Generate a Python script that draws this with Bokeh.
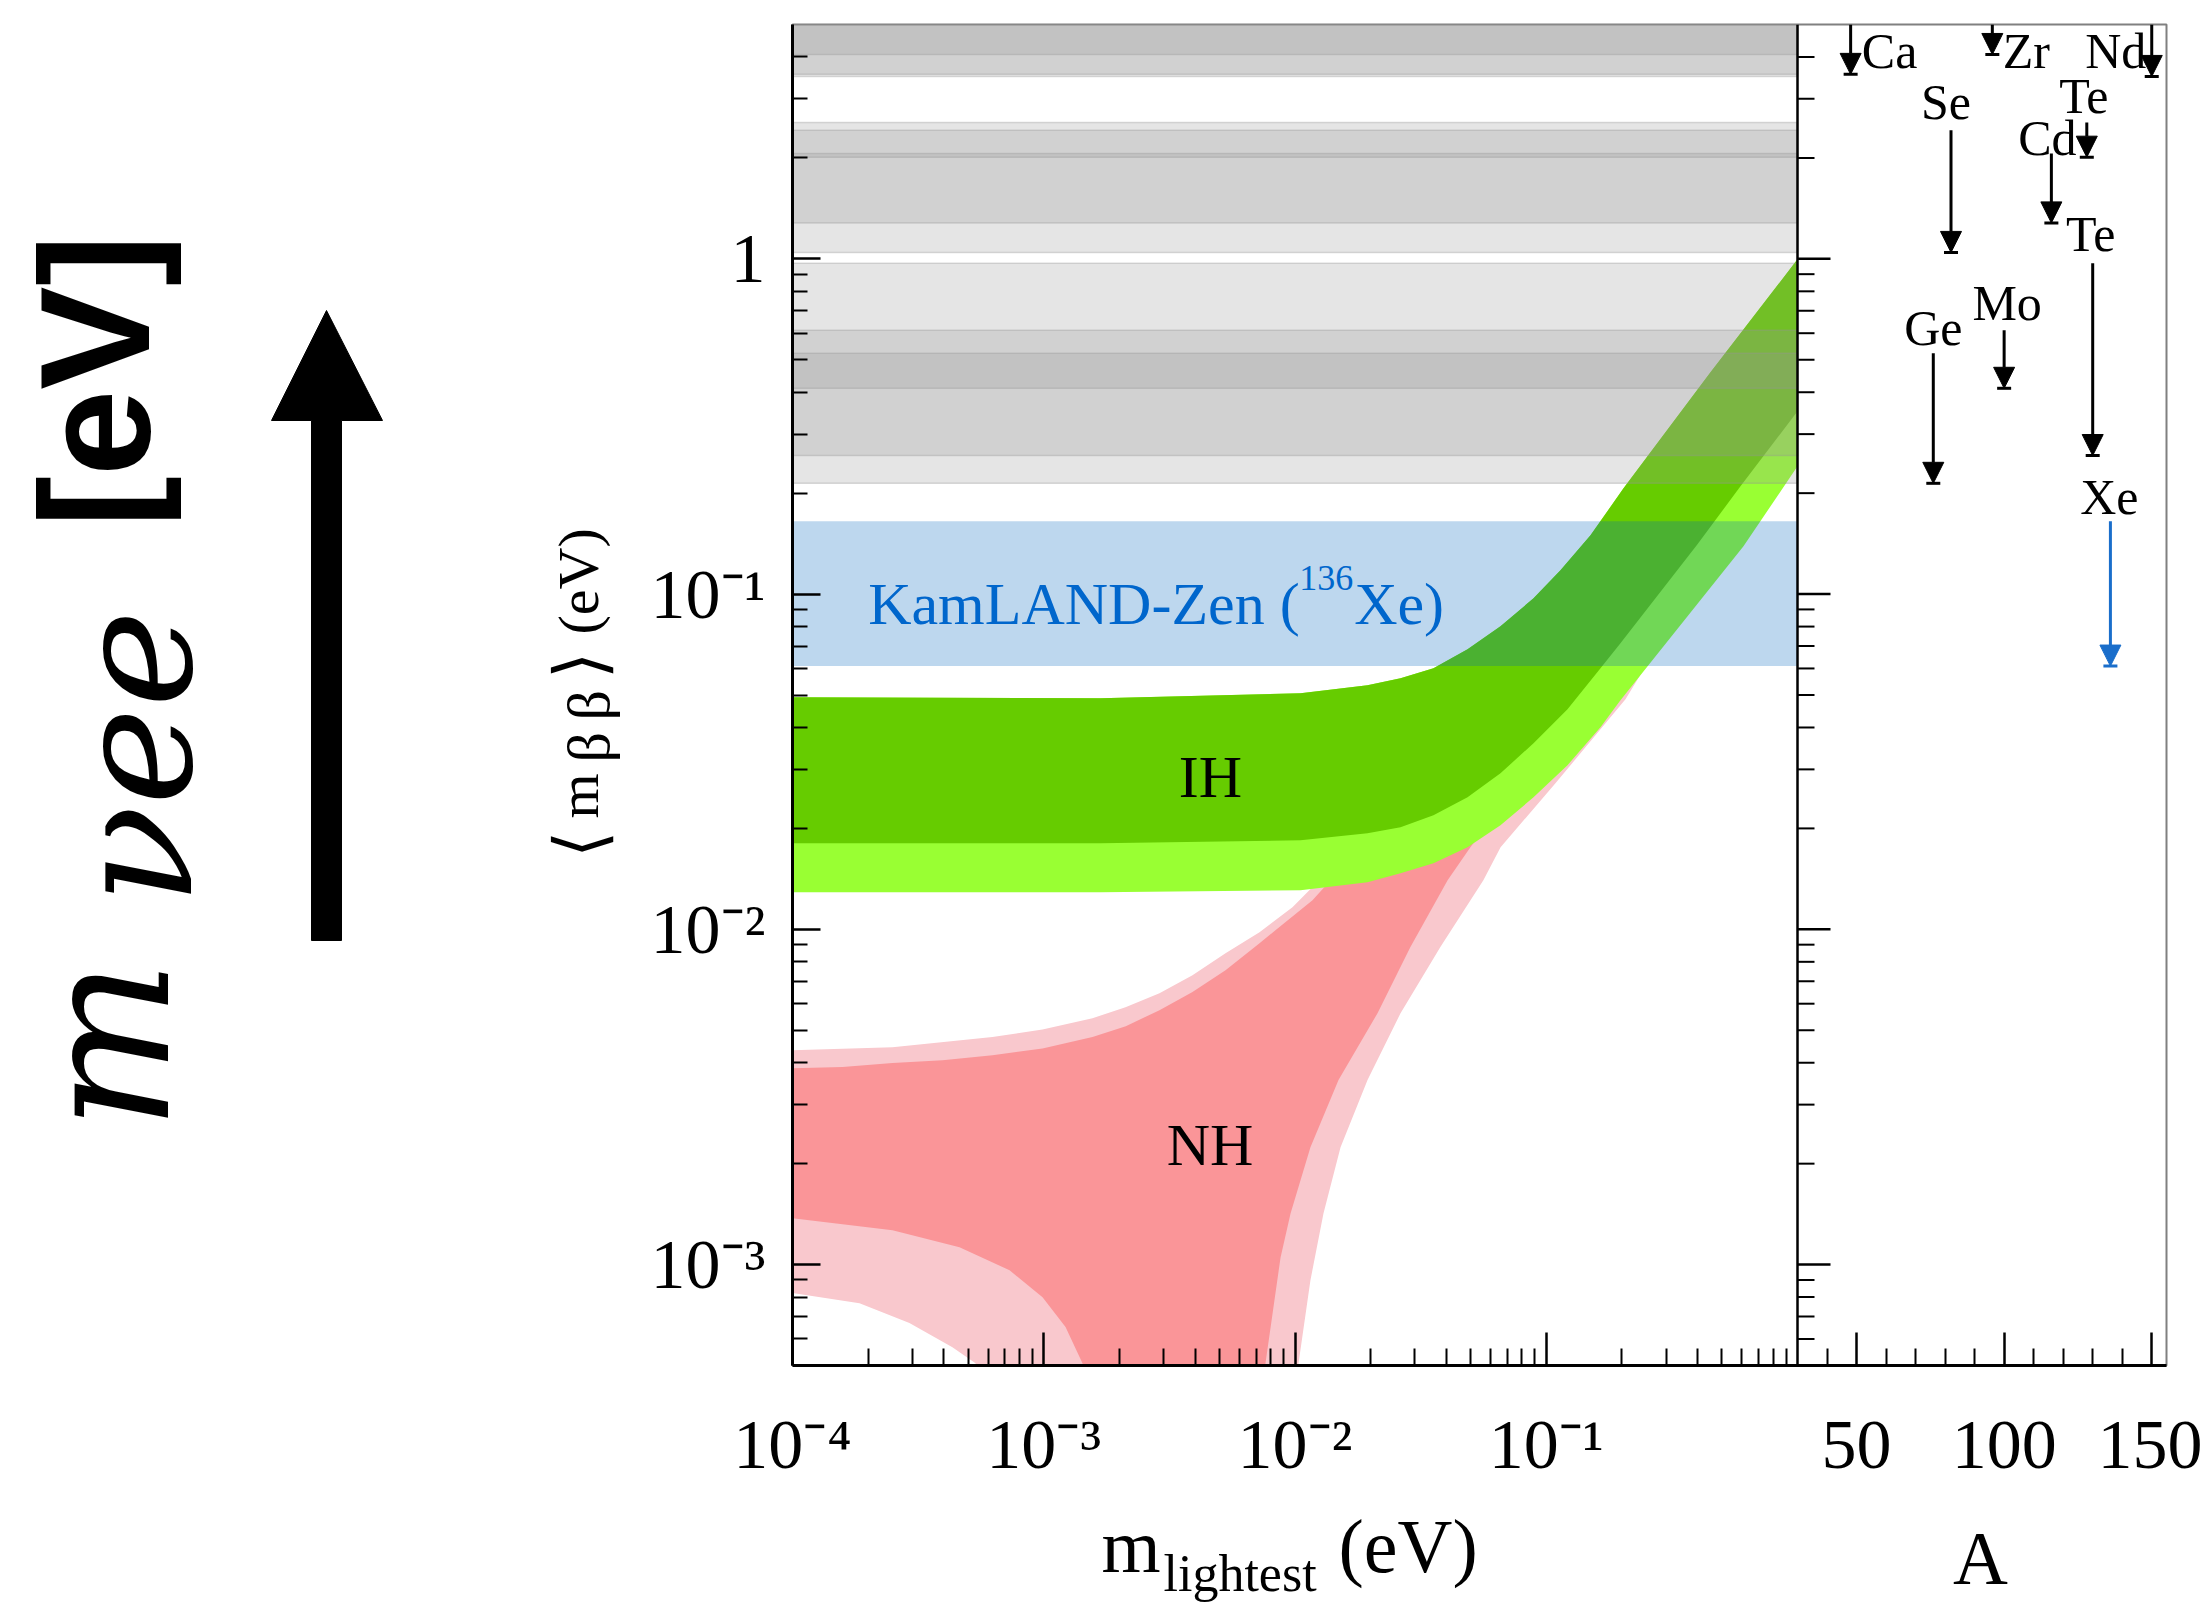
import math
from bokeh.plotting import figure
from bokeh.layouts import row, column
from bokeh.models import (ColumnDataSource, FixedTicker, Range1d, LinearScale,
                          Span, Arrow, NormalHead)
from bokeh.core.properties import value
from bokeh.embed import file_html
from bokeh.resources import INLINE

# ======================= DATA =======================
X_LIM = [1e-4, 1.0]      # m_lightest (eV)
Y_LIM = [5e-4, 5.0]      # <m_bb> (eV)
A_LIM = [30, 155]        # mass number A

x_major = [1e-4, 1e-3, 1e-2, 1e-1]
x_major_labels = ["10\u207b\u2074", "10\u207b\u00b3", "10\u207b\u00b2", "10\u207b\u00b9"]
y_major = [1e-3, 1e-2, 1e-1, 1.0]
y_major_labels = ["10\u207b\u00b3", "10\u207b\u00b2", "10\u207b\u00b9", "1"]
a_major = [50, 100, 150]
a_major_labels = ["50", "100", "150"]
a_minor = [40, 60, 70, 80, 90, 110, 120, 130, 140]

# Inverted hierarchy band
ih_up_x = [1e-4, 1.682e-3, 0.01052, 0.01943, 0.02630, 0.03557, 0.04861, 0.06574,
           0.08899, 0.1139, 0.1500, 0.2030, 0.4505, 1.0]
ih_up_y = [0.04923, 0.04889, 0.05060, 0.05346, 0.05609, 0.06008, 0.06844, 0.08015,
           0.09717, 0.1178, 0.1497, 0.2068, 0.4585, 0.9966]
ih_dark_low_x = [1e-4, 1.682e-3, 0.01052, 0.01943, 0.02630, 0.03557, 0.04861, 0.06574,
                 0.08899, 0.1215, 0.1644, 0.1974, 0.3999, 0.5930, 1.0]
ih_dark_low_y = [0.01806, 0.01806, 0.01844, 0.01935, 0.02016, 0.02189, 0.02477, 0.02921,
                 0.03589, 0.04530, 0.06008, 0.07135, 0.1408, 0.2097, 0.3509]
ih_light_low_x = [1e-4, 1.682e-3, 0.01052, 0.01943, 0.02630, 0.03557, 0.04861, 0.06574,
                  0.08899, 0.1215, 0.1644, 0.1974, 0.6095, 1.0]
ih_light_low_y = [0.01290, 0.01290, 0.01308, 0.01382, 0.01470, 0.01575, 0.01757, 0.02044,
                  0.02477, 0.03087, 0.04006, 0.04823, 0.1389, 0.2404]

# Normal hierarchy band
nh_light_up_x = [1e-4, 2.50e-4, 6.25e-4, 9.886e-4, 1.563e-3, 2.115e-3, 2.888e-3, 3.908e-3,
                 5.29e-3, 7.223e-3, 9.77e-3, 0.02, 0.05, 0.1, 0.3, 1.0]
nh_light_up_y = [4.36e-3, 4.45e-3, 4.77e-3, 5.03e-3, 5.43e-3, 5.857e-3, 6.45e-3, 7.295e-3,
                 8.49e-3, 9.80e-3, 0.01164, 0.02, 0.04, 0.07, 0.2, 0.6]
nh_dark_up_x = [1e-4, 1.581e-4, 2.50e-4, 3.954e-4, 6.25e-4, 9.886e-4, 1.563e-3, 2.121e-3,
                2.888e-3, 3.908e-3, 5.29e-3, 7.203e-3, 8.36e-3, 0.01174, 0.02, 0.05, 0.1, 0.3, 1.0]
nh_dark_up_y = [3.85e-3, 3.887e-3, 3.99e-3, 4.071e-3, 4.21e-3, 4.41e-3, 4.77e-3, 5.14e-3,
                5.74e-3, 6.505e-3, 7.55e-3, 9.07e-3, 9.94e-3, 0.01222, 0.019, 0.038, 0.065, 0.19, 0.58]
nh_light_right_x = [1.0, 0.6, 0.2067, 0.1088, 0.0658, 0.0562, 0.0379, 0.0263, 0.01944,
                    0.01518, 0.01298, 0.01152, 0.01033, 0.0099]
nh_light_right_y = [0.3, 0.18, 0.04857, 0.02727, 0.01757, 0.0140, 8.85e-3, 5.62e-3, 3.55e-3,
                    2.24e-3, 1.42e-3, 8.98e-4, 5.08e-4, 3.0e-4]
nh_dark_right_x = [1.0, 0.3, 0.1, 0.0499, 0.0405, 0.0288, 0.0213, 0.0149, 0.01152,
                   9.60e-3, 8.76e-3, 7.63e-3, 7.3e-3]
nh_dark_right_y = [0.4, 0.12, 0.035, 0.01757, 0.0140, 8.85e-3, 5.62e-3, 3.55e-3, 2.24e-3,
                   1.42e-3, 1.05e-3, 5.08e-4, 3.0e-4]
nh_dark_left_x = [1e-4, 2.50e-4, 4.62e-4, 7.31e-4, 9.89e-4, 1.221e-3, 1.426e-3, 1.6e-3]
nh_dark_left_y = [1.375e-3, 1.266e-3, 1.127e-3, 9.62e-4, 7.99e-4, 6.51e-4, 5.08e-4, 3.0e-4]
nh_light_left_x = [1e-4, 1.848e-4, 2.92e-4, 4.33e-4, 5.35e-4, 6.5e-4]
nh_light_left_y = [8.22e-4, 7.67e-4, 6.69e-4, 5.67e-4, 5.08e-4, 3.0e-4]

# Experimental limits per isotope (range from nuclear matrix elements)
iso_name = ["Ca", "Ge", "Se", "Zr", "Mo", "Cd", "Te", "Te", "Xe", "Nd"]
iso_A = [48, 76, 82, 96, 100, 116, 128, 130, 136, 150]
iso_low = [3.55, 0.214, 1.045, 4.07, 0.411, 1.28, 2.01, 0.259, 0.061, 3.5]
iso_high = [22.0, 0.523, 2.42, 19.5, 0.612, 2.06, 2.55, 0.97, 0.165, 6.3]
KZ_INDEX = 8   # KamLAND-Zen (136Xe)

# text labels inside the main panel
main_label_text = ["IH", "NH"]
main_label_x = [4.61e-3, 4.59e-3]
main_label_y = [0.0284, 2.27e-3]
kz_label_x, kz_label_y = 2e-4, 0.0932

# ======================= STYLE / LAYOUT =======================
W, H = 2202, 1605
LEFT_W = 620                      # strip holding the big label and y title
BORDER_L, BORDER_R = 172, 36      # main figure borders (page x of frame = 792)
PANEL_L_W, PANEL_R_W, FRAME_H = 1005, 369, 1341
MAIN_H = 1500
SERIF = "Liberation Serif"
LABEL_DX = [39, 0, -5, 34, 3, -4, -3, -2, -1, -36]
LABEL_DY = [26, -25, -28, 26, -27, -16, -27, -29, -24, 26]
GRAY, BLUE_BAND, BLUE = "#969696", "#0064bd", "#1a6ecb"

log_l = math.log10(X_LIM[1]) - math.log10(X_LIM[0])
log_r = log_l * PANEL_R_W / PANEL_L_W
x_end = 10 ** (math.log10(X_LIM[1]) + log_r)
a_start = A_LIM[0] - (A_LIM[1] - A_LIM[0]) * PANEL_L_W / PANEL_R_W


def a_to_x(a):
    return 10 ** (math.log10(X_LIM[1]) + (a - A_LIM[0]) / (A_LIM[1] - A_LIM[0]) * log_r)


def log_minors(lo, hi):
    out, e = [], math.floor(math.log10(lo))
    while 10 ** e <= hi:
        for k in range(2, 10):
            v = k * 10 ** e
            if lo < v < hi:
                out.append(v)
        e += 1
    return out


p = figure(x_axis_type="log", y_axis_type="log",
           x_range=Range1d(X_LIM[0], x_end), y_range=Range1d(*Y_LIM),
           frame_width=PANEL_L_W + PANEL_R_W, frame_height=FRAME_H,
           min_border_left=BORDER_L, min_border_right=BORDER_R,
           min_border_top=24, min_border_bottom=MAIN_H - 24 - FRAME_H,
           toolbar_location=None, output_backend="svg")
p.extra_x_ranges = {"A": Range1d(a_start, A_LIM[1])}
p.extra_x_scales = {"A": LinearScale()}
p.grid.visible = False
p.outline_line_color = "#808080"
p.outline_line_width = 2
p.background_fill_color = "white"
p.border_fill_color = "white"

# ---- axes ----
xax, yax = p.xaxis[0], p.yaxis[0]
x_ticks = x_major + [a_to_x(a) for a in a_major]
xax.ticker = FixedTicker(ticks=x_ticks,
                         minor_ticks=log_minors(*X_LIM) + [a_to_x(a) for a in a_minor])
xax.major_label_overrides = dict(zip(x_ticks, x_major_labels + a_major_labels))
yax.ticker = FixedTicker(ticks=y_major, minor_ticks=log_minors(*Y_LIM))
yax.major_label_overrides = dict(zip(y_major, y_major_labels))
for ax in (xax, yax):
    ax.axis_line_width = 3
    ax.axis_line_color = "black"
    ax.major_tick_out = 0
    ax.minor_tick_out = 0
    ax.major_tick_line_width = 2.5
    ax.minor_tick_line_width = 2
    ax.major_label_text_font = SERIF
    ax.major_label_text_font_size = "70px"
    ax.major_label_text_color = "black"
xax.major_tick_in, xax.minor_tick_in, xax.major_label_standoff = 33, 17, 40
yax.major_tick_in, yax.minor_tick_in, yax.major_label_standoff = 28, 15, 27

# ---- NH band ----
nh_l_x = nh_light_up_x + nh_light_right_x + nh_light_left_x[::-1]
nh_l_y = nh_light_up_y + nh_light_right_y + nh_light_left_y[::-1]
nh_d_x = nh_dark_up_x + nh_dark_right_x + nh_dark_left_x[::-1]
nh_d_y = nh_dark_up_y + nh_dark_right_y + nh_dark_left_y[::-1]
p.patch(nh_l_x, nh_l_y, fill_color="#f9c8cd", line_color=None)
p.patch(nh_d_x, nh_d_y, fill_color="#fa9598", line_color=None)

# ---- IH band ----
p.patch(ih_up_x + ih_light_low_x[::-1], ih_up_y + ih_light_low_y[::-1],
        fill_color="#99ff33", line_color=None)
p.patch(ih_up_x + ih_dark_low_x[::-1], ih_up_y + ih_dark_low_y[::-1],
        fill_color="#66cc00", line_color=None)

# ---- excluded bands ----
gray_idx = [i for i in range(len(iso_name)) if i != KZ_INDEX]
p.quad(left=[X_LIM[0]] * len(gray_idx), right=[X_LIM[1]] * len(gray_idx),
       bottom=[iso_low[i] for i in gray_idx], top=[iso_high[i] for i in gray_idx],
       fill_color=GRAY, fill_alpha=0.25, line_color=GRAY, line_alpha=0.35, line_width=1.5)
p.quad(left=[X_LIM[0]], right=[X_LIM[1]], bottom=[iso_low[KZ_INDEX]], top=[iso_high[KZ_INDEX]],
       fill_color=BLUE_BAND, fill_alpha=0.26, line_color=None)

# ---- in-panel labels ----
p.text(x=main_label_x, y=main_label_y, text=main_label_text, text_font=value(SERIF),
       text_font_size="60px", text_align="center", text_baseline="middle", text_color="black")
p.text(x=[kz_label_x], y=[kz_label_y], text=["KamLAND-Zen ("], text_font=value(SERIF),
       text_font_size="60px", text_align="left", text_baseline="middle", text_color="#0066cc")
p.text(x=[kz_label_x], y=[kz_label_y], text=["136"], x_offset=431, y_offset=-26,
       text_font=value(SERIF), text_font_size="36px", text_align="left",
       text_baseline="middle", text_color="#0066cc")
p.text(x=[kz_label_x], y=[kz_label_y], text=["Xe)"], x_offset=486, text_font=value(SERIF),
       text_font_size="60px", text_align="left", text_baseline="middle", text_color="#0066cc")

# ---- divider between panels with ticks into right panel ----
p.add_layout(Span(location=X_LIM[1], dimension="height", line_color="black", line_width=2.5))
p.ray(x=[X_LIM[1]] * len(y_major), y=y_major, length=33, length_units="screen", angle=0,
      line_color="black", line_width=2.5)
ymin = log_minors(*Y_LIM)
p.ray(x=[X_LIM[1]] * len(ymin), y=ymin, length=17, length_units="screen", angle=0,
      line_color="black", line_width=2)

# ---- right panel: limit arrows ----
tops = [min(h, Y_LIM[1]) for h in iso_high]
for idxs, col in ((gray_idx, "black"), ([KZ_INDEX], BLUE)):
    src = ColumnDataSource(dict(A=[iso_A[i] for i in idxs], top=[tops[i] for i in idxs],
                                low=[iso_low[i] for i in idxs]))
    p.add_layout(Arrow(source=src, x_start="A", y_start="top", x_end="A", y_end="low",
                       x_range_name="A", line_color=col, line_width=3,
                       end=NormalHead(size=21, fill_color=col, line_color=col)))
    p.scatter(x="A", y="low", source=src, marker="dash", size=14, line_width=3,
              line_color=col, x_range_name="A")

lab_src = ColumnDataSource(dict(A=iso_A, y=tops, text=iso_name, dx=LABEL_DX, dy=LABEL_DY))
p.text(x="A", y="y", text="text", x_offset="dx", y_offset="dy", source=lab_src,
       x_range_name="A", text_font=value(SERIF), text_font_size="50px",
       text_align="center", text_baseline="middle", text_color="black")


# ======================= side strips (titles) =======================
def strip(width, height, x0, x1, y0, bl=0, br=0):
    f = figure(width=width, height=height, x_range=Range1d(x0, x1),
               y_range=Range1d(0, height), x_axis_location=None, y_axis_location=None,
               toolbar_location=None, output_backend="svg", min_border=0,
               min_border_left=bl, min_border_right=br)
    f.grid.visible = False
    f.outline_line_color = None
    f.background_fill_color = "white"
    f.border_fill_color = "white"
    f._y0 = y0
    return f


def put(f, x, y, t, size, font=SERIF, style="normal", angle=0.0, align="left"):
    # x, y: page pixel position of the text's middle line
    f.text(x=[x], y=[f._y0 + f.height - y], text=[t], angle=angle,
           text_font=value(font), text_font_size=size, text_font_style=style,
           text_align=align, text_baseline="middle", text_color="black")


R = math.pi / 2
left = strip(LEFT_W, H, 0, LEFT_W, 0)
# big title  m_{nu ee} [eV]  with an upward arrow
put(left, 105, 1130, "m", "180px", font="DejaVu Serif", style="italic", angle=R)
put(left, 133, 905, "\u03bdee", "165px", font="DejaVu Serif", style="italic", angle=R)
put(left, 95, 527, "[eV]", "155px", font="Liberation Sans", style="bold", angle=R)
arrow_x = [311, 341, 341, 382, 326, 271, 311]
arrow_y = [940, 940, 420, 420, 310, 420, 420]
left.patch(arrow_x, [H - v for v in arrow_y], fill_color="black", line_color="black")
# y title  <m_bb> (eV)
put(left, 580, 857, "\u27e8", "70px", angle=R)
put(left, 578, 818, "m", "58px", angle=R)
put(left, 588, 762, "\u03b2", "60px", angle=R)
put(left, 588, 720, "\u03b2", "60px", angle=R)
put(left, 580, 678, "\u27e9", "70px", angle=R)
put(left, 578, 634, "(eV)", "58px", angle=R)

frame_x0 = LEFT_W + BORDER_L
bottom = strip(W - LEFT_W, H - MAIN_H, frame_x0, frame_x0 + PANEL_L_W + PANEL_R_W, MAIN_H,
               bl=BORDER_L, br=BORDER_R)
put(bottom, 1101, 1545, "m", "76px")
put(bottom, 1163, 1573, "lightest", "52px")
put(bottom, 1338, 1545, "(eV)", "76px")
put(bottom, 1980, 1557, "A", "76px", align="center")

layout = row(left, column(p, bottom))
open("out.html", "w").write(file_html(layout, INLINE, "m_bb"))
